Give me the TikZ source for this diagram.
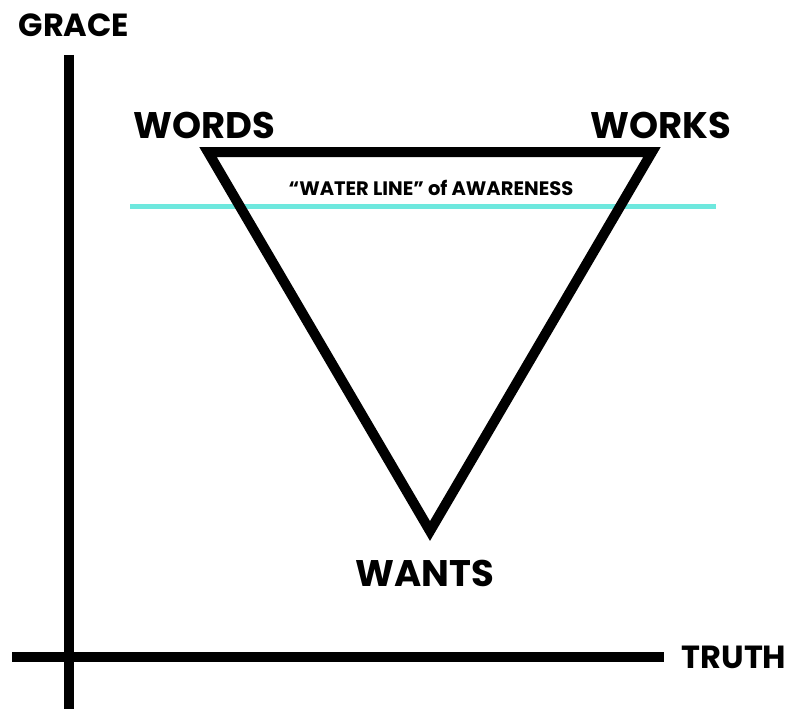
\documentclass[tikz,border=0pt]{standalone}
\usepackage{fontspec}
\setmainfont{Poppins}[BoldFont={Poppins Bold}]
\definecolor{water}{RGB}{110,232,222}
\begin{document}
\begin{tikzpicture}[x=1pt,y=-1pt,
  axis/.style={line width=10pt},
  tri/.style={line width=10pt,line join=miter},
  big/.style={font=\fontsize{37}{37}\selectfont\bfseries,inner sep=0pt},
  axlab/.style={font=\fontsize{32}{32}\selectfont\bfseries,inner sep=0pt},
  small/.style={font=\fontsize{19.5}{19.5}\selectfont\bfseries,inner sep=0pt}]
\useasboundingbox (0,0) rectangle (793,709);
% axes
\coordinate (ytop) at (69,55);
\coordinate (ybot) at (69,709);
\coordinate (xl) at (12,657);
\coordinate (xr) at (664,657);
\draw[axis] (ytop) -- (ybot);
\draw[axis] (xl) -- (xr);
\node[axlab] (grace) at (74,25) {GRACE};
\node[axlab] (truth) at (734,657) {TRUTH};
% water line
\coordinate (wl) at (130,206);
\coordinate (wr) at (716,206);
\draw[water,line width=5pt] (wl) -- (wr);
% triangle
\coordinate (tl) at (208,152);
\coordinate (tr) at (652,152);
\coordinate (bt) at (430,531);
\draw[tri] (tl) -- (tr) -- (bt) -- cycle;
\node[big] (words) at (204,125) {WORDS};
\node[big] (works) at (661,125) {WORKS};
\node[big] (wants) at (425,573) {WANTS};
\node[small] (wline) at (431,188) {“WATER LINE” of AWARENESS};
\end{tikzpicture}
\end{document}
